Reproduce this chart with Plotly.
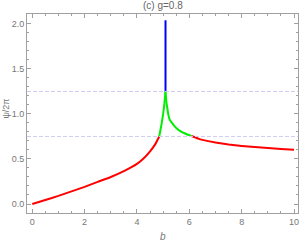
import plotly.graph_objects as go

# red branch (left)
b_red_left = [0, 0.5, 1, 1.5, 2, 2.5, 3, 3.5, 4, 4.25, 4.5, 4.7, 4.85]
psi_red_left = [0, 0.045, 0.09, 0.14, 0.19, 0.245, 0.30, 0.365, 0.445, 0.505, 0.585, 0.665, 0.75]
# green branch (left of peak)
b_green_left = [4.85, 4.94, 5.0, 5.05, 5.09]
psi_green_left = [0.75, 0.89, 1.0, 1.12, 1.25]
# blue spike
b_blue = [5.09, 5.09]
psi_blue = [1.25, 2.04]
# green branch (right of peak)
b_green_right = [5.09, 5.12, 5.15, 5.2, 5.25, 5.38, 5.5, 5.7, 5.9, 6.08]
psi_green_right = [1.25, 1.14, 1.08, 0.99, 0.935, 0.885, 0.845, 0.80, 0.775, 0.755]
# red branch (right)
b_red_right = [6.08, 6.34, 6.5, 7, 7.5, 8, 8.5, 9, 9.5, 10]
psi_red_right = [0.755, 0.726, 0.712, 0.682, 0.661, 0.645, 0.632, 0.621, 0.611, 0.602]
# dashed reference levels
ref_levels = [1.25, 0.75]

FONT = "Liberation Sans"
fig = go.Figure()
for xs, ys, c in [(b_red_left, psi_red_left, "#FF0000"),
                  (b_green_left, psi_green_left, "#00EE00"),
                  (b_green_right, psi_green_right, "#00EE00"),
                  (b_red_right, psi_red_right, "#FF0000"),
                  (b_blue, psi_blue, "#0000FF")]:
    fig.add_trace(go.Scatter(x=xs, y=ys, mode="lines",
                             line=dict(color=c, width=2, shape="spline", smoothing=0.3),
                             showlegend=False, hoverinfo="skip"))
for lv in ref_levels:
    fig.add_hline(y=lv, line=dict(color="#CDCDF3", width=1, dash="4px,2px"))

axis_common = dict(showgrid=False, zeroline=False, showline=True, linecolor="#A0A0A0",
                   linewidth=1, mirror="allticks", ticks="inside", ticklen=4,
                   tickcolor="#A0A0A0", automargin=False, ticklabeloverflow="allow",
                   tickfont=dict(family=FONT, size=9, color="#777777"))
fig.update_xaxes(range=[-0.2, 10.15], tickvals=[0, 2, 4, 6, 8, 10],
                 minor=dict(dtick=0.5, ticks="inside", ticklen=2, tickcolor="#A0A0A0", tick0=0),
                 **axis_common)
fig.update_yaxes(range=[-0.1, 2.11], tickvals=[0, 0.5, 1.0, 1.5, 2.0], ticktext=["0.0", "0.5", "1.0", "1.5", "2.0"],
                 minor=dict(dtick=0.1, ticks="inside", ticklen=2, tickcolor="#A0A0A0", tick0=0),
                 **axis_common)
fig.add_annotation(text="(c) g=0.8", xref="paper", yref="paper", x=0.5, y=1.045,
                   xanchor="center", yanchor="middle", showarrow=False,
                   font=dict(family=FONT, size=10, color="#666666"))
fig.add_annotation(text="<i>b</i>", xref="paper", yref="paper", x=0.5, y=-0.12,
                   xanchor="center", yanchor="middle", showarrow=False,
                   font=dict(family=FONT, size=10, color="#777777"))
fig.add_annotation(text="ψ/2π", xref="paper", yref="paper", x=-0.081, y=0.525,
                   xanchor="center", yanchor="middle", textangle=-90, showarrow=False,
                   font=dict(family=FONT, size=9, color="#777777"))
fig.update_layout(width=300, height=245, margin=dict(l=27, r=2, t=14, b=32),
                  plot_bgcolor="white", paper_bgcolor="white")
fig.write_html("out.html", config={"displayModeBar": False},
               post_script="document.body.style.margin='0px';document.body.style.overflow='hidden';")
